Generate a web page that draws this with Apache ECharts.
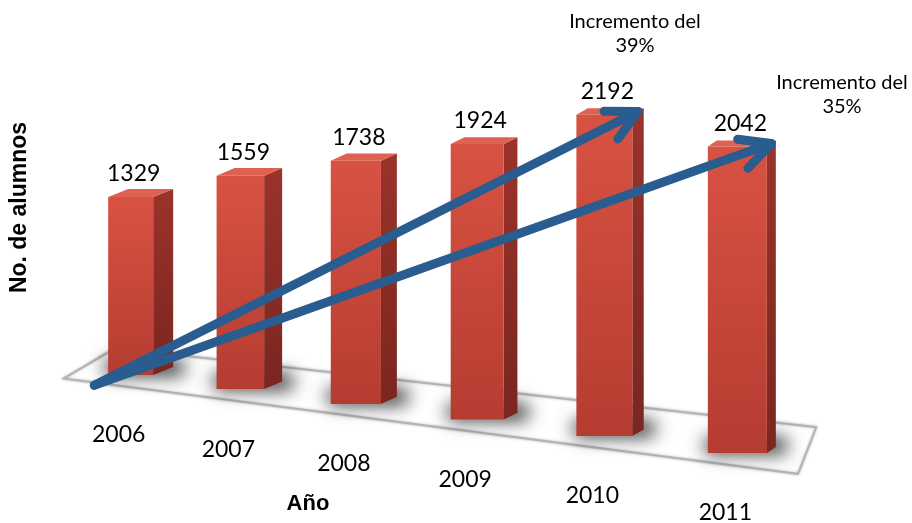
<!DOCTYPE html>
<html>
<head>
<meta charset="utf-8">
<script src="https://cdn.jsdelivr.net/npm/echarts@6/dist/echarts.min.js"></script>
<style>
html, body { margin: 0; background: #fff; }
#chart { width: 912px; height: 523px; }
</style>
</head>
<body>
<div id="chart"></div>
<script>
var years = ['2006', '2007', '2008', '2009', '2010', '2011'];
var alumnos = [1329, 1559, 1738, 1924, 2192, 2042];
var arrowTo = [4, 5];   // bar index each arrow points at
var notes = ['Incremento del\n39%', 'Incremento del\n35%'];

// fake 3d: floor tilts down to the right and gets a bit closer
var WARP = 0.12, TILT = 78, GROW = 0.12;
var BLUE = '#2a5d8f';
var LABEL_FONT = 'Lato';
var OFF = 1000; // shadow shapes are drawn off screen, only their shadow lands on the floor

function frame(api) {
  var a = api.coord([0, 0]), b = api.coord([years.length - 1, 0]);
  return { x0: a[0], span: b[0] - a[0], y0: a[1] };
}
function warp(u) { return u * (1 - WARP) + WARP * u * u; }
function at(f, t, dy) { return [f.x0 + t * f.span, f.y0 + TILT * t + (dy || 0)]; }

function box(api, i, v) {
  var f = frame(api);
  var lin = api.coord([i, 0])[0];
  var t = warp((lin - f.x0) / f.span);
  var p = at(f, t);
  var h = api.size([0, v])[1] * (1 + GROW * t);
  var w = 45 + 14 * t;
  return {
    t: t, cx: p[0], base: p[1], top: p[1] - h,
    x1: p[0] - w / 2, x2: p[0] + w / 2,
    dx: 20 - 11 * t, dy: -8 + 2 * t
  };
}

function renderFloor(params, api) {
  var f = frame(api);
  return {
    type: 'polygon',
    shape: { points: [at(f, -0.11, 12), at(f, 1.10, 13), at(f, 1.13, -36), at(f, -0.025, -25)] },
    style: { fill: '#fff', stroke: '#b4b4b4', lineWidth: 2, shadowBlur: 3, shadowColor: 'rgba(0,0,0,0.25)' }
  };
}

function renderBar(params, api) {
  var i = api.value(0), v = api.value(1);
  var b = box(api, i, v);
  var dx = b.dx, dy = b.dy;
  var w = b.x2 - b.x1;
  return {
    type: 'group',
    children: [
      { // soft shadow on the floor, behind and right of the base
        type: 'rect',
        shape: { x: b.x1 - 4, y: b.base - 16 - OFF, width: w + dx + 16, height: 17, r: 8 },
        style: { fill: '#000', shadowBlur: 18, shadowOffsetY: OFF, shadowColor: 'rgba(0,0,0,0.8)' }
      },
      {
        type: 'polygon',
        shape: { points: [[b.x2, b.top], [b.x2 + dx, b.top + dy], [b.x2 + dx, b.base + dy], [b.x2, b.base]] },
        style: { fill: new echarts.graphic.LinearGradient(0, 0, 0, 1, [
          { offset: 0, color: '#9a332b' }, { offset: 1, color: '#7a261f' }]) }
      },
      {
        type: 'polygon',
        shape: { points: [[b.x1, b.top], [b.x1 + dx, b.top + dy], [b.x2 + dx, b.top + dy], [b.x2, b.top]] },
        style: { fill: '#de6152' }
      },
      {
        type: 'rect',
        shape: { x: b.x1, y: b.top, width: w, height: b.base - b.top },
        style: { fill: new echarts.graphic.LinearGradient(0, 0, 0, 1, [
          { offset: 0, color: '#d85243' }, { offset: 1, color: '#b53c31' }]) }
      },
      {
        type: 'text',
        style: { text: String(v), x: b.cx + 3, y: b.top - 23, align: 'center', verticalAlign: 'middle',
          fill: '#000', fontSize: 23, fontFamily: LABEL_FONT }
      },
      {
        type: 'text',
        style: { text: years[i], x: b.cx - 12, y: b.base + 60, align: 'center', verticalAlign: 'middle',
          fill: '#000', fontSize: 23, fontFamily: LABEL_FONT }
      }
    ]
  };
}

function renderArrow(params, api) {
  var f = frame(api);
  var j = api.value(0);
  var b = box(api, j, api.value(1));
  var s = at(f, -0.06, 15);
  var e = [b.x2 + b.dx / 2, b.top + b.dy / 2];
  var ang = Math.atan2(s[1] - e[1], s[0] - e[0]);
  var L = 34, spread = 27 * Math.PI / 180;
  var a1 = [e[0] + L * Math.cos(ang + spread), e[1] + L * Math.sin(ang + spread)];
  var a2 = [e[0] + L * Math.cos(ang - spread), e[1] + L * Math.sin(ang - spread)];
  var st = { stroke: BLUE, lineWidth: 9, lineCap: 'round', lineJoin: 'round', fill: null };
  return {
    type: 'group',
    children: [
      { type: 'line', shape: { x1: s[0], y1: s[1], x2: e[0], y2: e[1] }, style: st },
      { type: 'polyline', shape: { points: [a1, e, a2] }, style: st }
    ]
  };
}

var chart = echarts.init(document.getElementById('chart'));
chart.setOption({
  animation: false,
  grid: { left: 64, right: 114, top: 40, bottom: 148 },
  xAxis: { type: 'category', data: years, show: false },
  yAxis: {
    type: 'value', min: 0, max: 2500,
    name: 'No. de alumnos', nameLocation: 'middle', nameGap: 39,
    nameTextStyle: { fontSize: 23, fontWeight: 'bold', fontFamily: 'Liberation Sans', color: '#000' },
    axisLine: { show: false }, axisTick: { show: false }, axisLabel: { show: false }, splitLine: { show: false }
  },
  series: [
    { type: 'custom', clip: false, z: 1, data: [[0, 0]], renderItem: renderFloor, silent: true },
    { type: 'custom', clip: false, z: 2, data: years.map(function (y, i) { return [i, alumnos[i]]; }), renderItem: renderBar },
    { type: 'custom', clip: false, z: 3, data: arrowTo.map(function (j) { return [j, alumnos[j]]; }), renderItem: renderArrow }
  ],
  graphic: [
    { type: 'text', style: { text: 'Año', x: 308, y: 504, align: 'center', verticalAlign: 'middle',
      fontSize: 22, fontWeight: 'bold', fontFamily: 'Liberation Sans', fill: '#000' } },
    { type: 'text', style: { text: notes[0], x: 635, y: 34, align: 'center', verticalAlign: 'middle',
      lineHeight: 24, fontSize: 20, fontFamily: LABEL_FONT, fill: '#000' } },
    { type: 'text', style: { text: notes[1], x: 842, y: 95, align: 'center', verticalAlign: 'middle',
      lineHeight: 24, fontSize: 20, fontFamily: LABEL_FONT, fill: '#000' } }
  ]
});
</script>
</body>
</html>
